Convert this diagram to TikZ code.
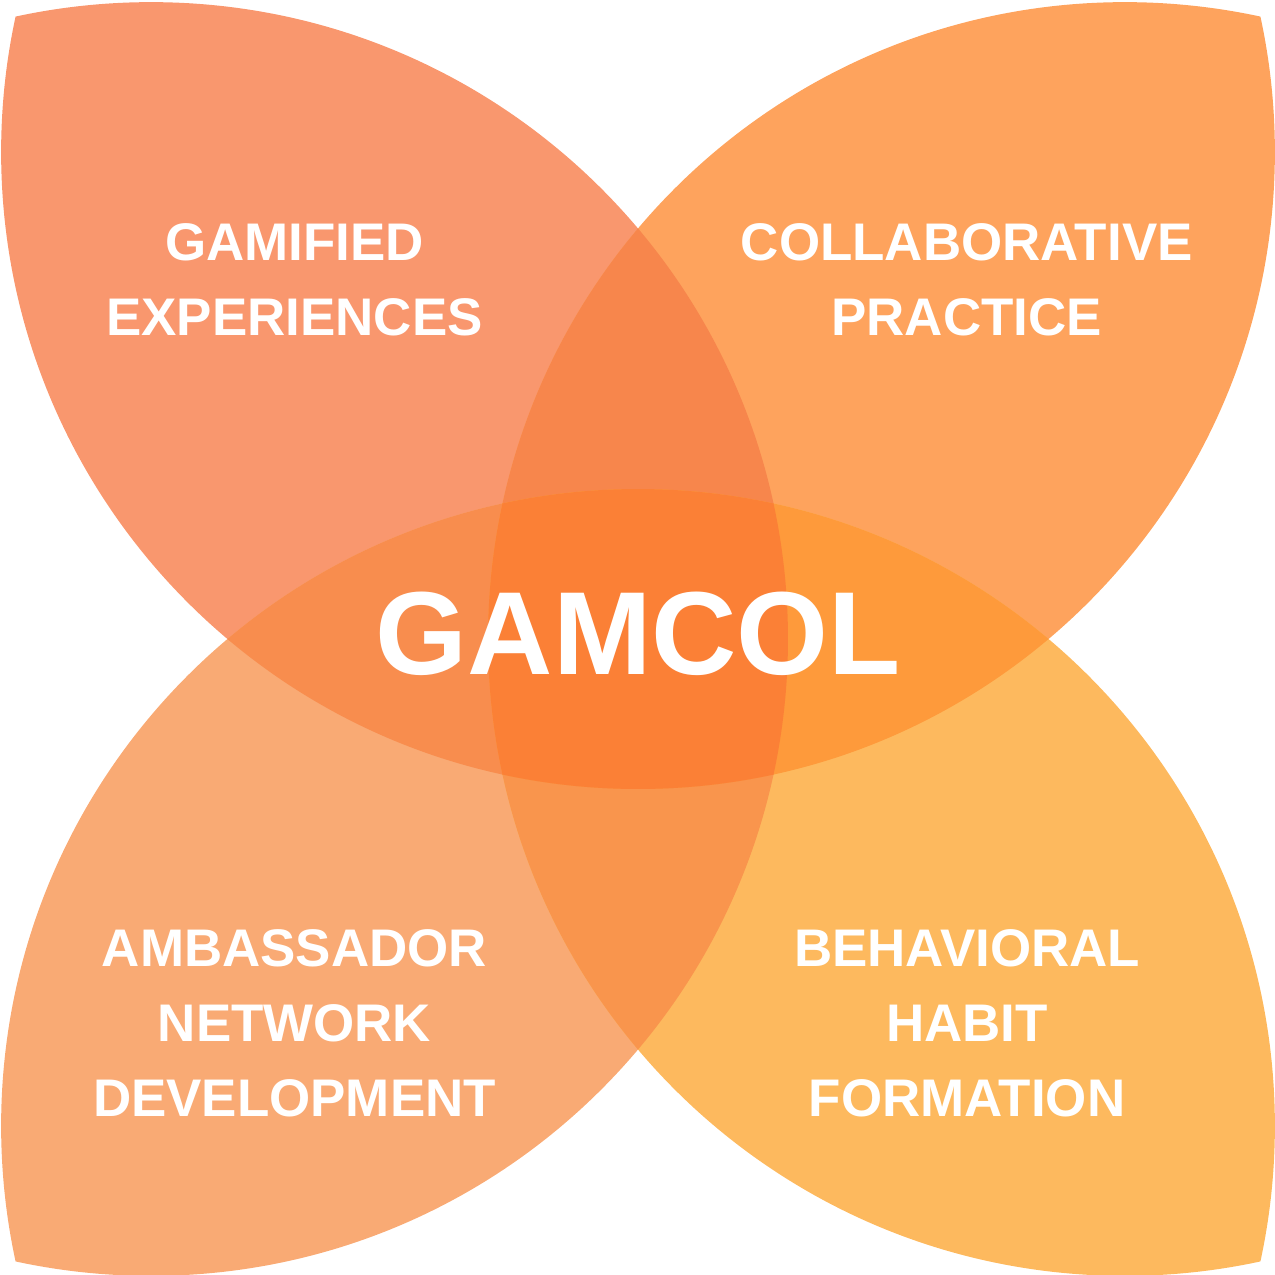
\documentclass[tikz,border=0pt]{standalone}
\usepackage{fontspec}
\setmainfont{Liberation Sans}
\definecolor{tlc}{HTML}{F9976E}
\definecolor{trc}{HTML}{FEA35D}
\definecolor{blc}{HTML}{F9AA74}
\definecolor{brc}{HTML}{FDB95E}
\definecolor{tltr}{HTML}{F7864C}
\definecolor{blbr}{HTML}{F9954D}
\definecolor{tlbl}{HTML}{F88D4E}
\definecolor{trbr}{HTML}{FE9A3B}
\definecolor{ctr}{HTML}{FB8036}
\begin{document}
\begin{tikzpicture}[x=0.01cm,y=-0.01cm,
  lab/.style={text=white,align=center,inner sep=0pt,font=\bfseries\fontsize{15.05}{21.34}\selectfont},
  big/.style={text=white,inner sep=0pt,font=\bfseries\fontsize{33.6}{40}\selectfont}]
\useasboundingbox (0,0) rectangle (1275,1275);
\def\circT{(638,152.1) circle[radius=6.365cm]}
\def\circB{(638,1125.9) circle[radius=6.365cm]}
\def\circL{(151.1,639) circle[radius=6.365cm]}
\def\circR{(1124.9,639) circle[radius=6.365cm]}
% petals
\begin{scope}\clip \circL; \fill[tlc] \circT; \end{scope}
\begin{scope}\clip \circR; \fill[trc] \circT; \end{scope}
\begin{scope}\clip \circL; \fill[blc] \circB; \end{scope}
\begin{scope}\clip \circR; \fill[brc] \circB; \end{scope}
% pairwise overlaps
\begin{scope}\clip \circL; \clip \circR; \fill[tltr] \circT; \end{scope}
\begin{scope}\clip \circL; \clip \circR; \fill[blbr] \circB; \end{scope}
\begin{scope}\clip \circT; \clip \circB; \fill[tlbl] \circL; \end{scope}
\begin{scope}\clip \circT; \clip \circB; \fill[trbr] \circR; \end{scope}
% centre
\begin{scope}\clip \circT; \clip \circB; \clip \circL; \fill[ctr] \circR; \end{scope}
% labels
\node[lab] (gam) at (294.5,280) {GAMIFIED\\EXPERIENCES};
\node[lab] (col) at (966.7,280) {COLLABORATIVE\\PRACTICE};
\node[lab] (amb) at (294.5,1023.5) {AMBASSADOR\\NETWORK\\DEVELOPMENT};
\node[lab] (beh) at (967,1023.5) {BEHAVIORAL\\HABIT\\FORMATION};
\node[big] (gamcol) at (638.5,633.7) {GAMCOL};
\end{tikzpicture}
\end{document}
